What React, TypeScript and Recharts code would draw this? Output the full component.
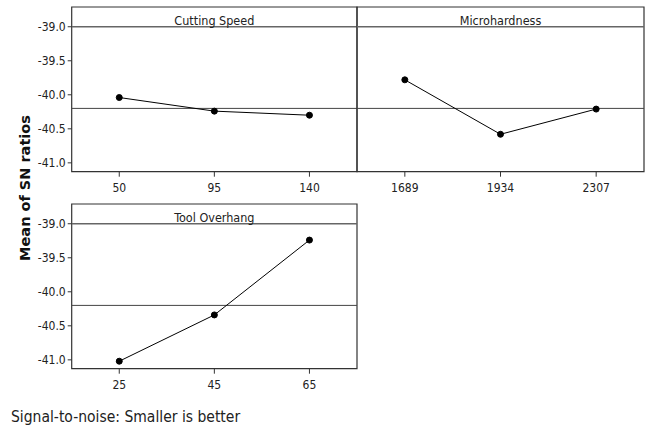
import React from 'react';
import { LineChart, Line, XAxis, YAxis, ReferenceLine, ReferenceArea } from 'recharts';

// Main effects plot for SN ratios (Minitab style)
const cuttingSpeedLevels = ['50', '95', '140'];
const cuttingSpeedSN = [-40.04, -40.24, -40.3];

const microhardnessLevels = ['1689', '1934', '2307'];
const microhardnessSN = [-39.78, -40.58, -40.21];

const toolOverhangLevels = ['25', '45', '65'];
const toolOverhangSN = [-41.02, -40.34, -39.24];

const overallMean = -40.2;
const yTicks = [-39.0, -39.5, -40.0, -40.5, -41.0];
const yDomain: [number, number] = [-41.13, -38.71];
const headerBottom = -39.0;

const FONT = '"DejaVu Sans Condensed", "DejaVu Sans", sans-serif';
const INK = '#222';

const toRows = (vals: number[]) => vals.map((v, i) => ({ x: i + 1, v }));

interface PanelProps {
  title: string;
  levels: string[];
  values: number[];
  showY: boolean;
  width: number;
  margin: { top: number; right: number; bottom: number; left: number };
}

function Panel({ title, levels, values, showY, width, margin }: PanelProps) {
  return (
    <LineChart width={width} height={200} data={toRows(values)} margin={margin}>
      <XAxis
        type="number"
        dataKey="x"
        domain={[0.5, 3.5]}
        ticks={[1, 2, 3]}
        tickFormatter={(t) => levels[t - 1]}
        axisLine={false}
        tickSize={5}
        tickMargin={7}
        height={25}
        tickLine={{ stroke: '#333' }}
        tick={{ fill: INK, fontSize: 12, fontFamily: FONT }}
      />
      <YAxis
        type="number"
        domain={yDomain}
        ticks={yTicks}
        allowDataOverflow
        hide={!showY}
        width={71.7}
        axisLine={false}
        tickSize={4}
        tickMargin={2}
        tickLine={{ stroke: '#333' }}
        tickFormatter={(t) => t.toFixed(1)}
        tick={{ fill: INK, fontSize: 12, fontFamily: FONT }}
      />
      <ReferenceArea
        x1={0.5}
        x2={3.5}
        y1={headerBottom}
        y2={yDomain[1]}
        fill="none"
        stroke="none"
        label={{ value: title, position: 'insideBottom', offset: 2, fill: INK, fontSize: 12.5, fontFamily: FONT }}
      />
      <ReferenceLine y={headerBottom} stroke="#666" strokeWidth={1.5} />
      <ReferenceLine y={overallMean} stroke="#444" strokeWidth={1} />
      <ReferenceArea
        x1={0.5}
        x2={3.5}
        y1={yDomain[0]}
        y2={yDomain[1]}
        fill="none"
        stroke="#333"
        strokeWidth={1.2}
      />
      <Line
        dataKey="v"
        stroke="#000"
        strokeWidth={1}
        dot={{ r: 3, fill: '#000', stroke: '#000', strokeWidth: 1 }}
        isAnimationActive={false}
      />
    </LineChart>
  );
}

export default function App() {
  return (
    <div style={{ position: 'absolute', left: 0, top: 0, width: 651, height: 427, background: '#fff' }}>
      <div style={{ position: 'absolute', left: 0, top: 0 }}>
        <Panel
          title="Cutting Speed"
          levels={cuttingSpeedLevels}
          values={cuttingSpeedSN}
          showY
          width={360}
          margin={{ top: 7, right: 3, bottom: 3.3, left: 0 }}
        />
      </div>
      <div style={{ position: 'absolute', left: 352, top: 0 }}>
        <Panel
          title="Microhardness"
          levels={microhardnessLevels}
          values={microhardnessSN}
          showY={false}
          width={299}
          margin={{ top: 7, right: 7, bottom: 3.3, left: 5 }}
        />
      </div>
      <div style={{ position: 'absolute', left: 0, top: 197 }}>
        <Panel
          title="Tool Overhang"
          levels={toolOverhangLevels}
          values={toolOverhangSN}
          showY
          width={360}
          margin={{ top: 7, right: 3, bottom: 3.3, left: 0 }}
        />
      </div>
      <svg width={651} height={427} style={{ position: 'absolute', left: 0, top: 0, pointerEvents: 'none' }}>
        <text
          x={0}
          y={0}
          transform="translate(29.5 188) rotate(-90)"
          textAnchor="middle"
          fontFamily='"DejaVu Sans", sans-serif'
          fontWeight="bold"
          fontSize={14.5}
          fill="#111"
        >
          Mean of SN ratios
        </text>
        <text x={11} y={421.5} fontFamily={FONT} fontSize={15.5} fill={INK}>
          Signal-to-noise: Smaller is better
        </text>
      </svg>
    </div>
  );
}
